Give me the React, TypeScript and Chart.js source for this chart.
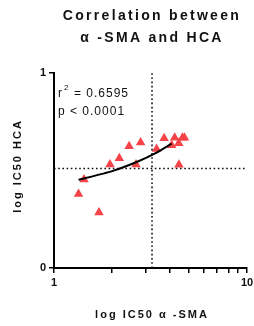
import React, { useEffect, useRef } from "react";
import { Chart, registerables } from "chart.js";

Chart.register(...registerables);

const titleLines = ["Correlation between", "\u03b1 -SMA and HCA"];
const xTitle = "log IC50 \u03b1 -SMA";
const yTitle = "log IC50 HCA";
const statLines = ["r\u00b2 = 0.6595", "p < 0.0001"];

const ic50SMA = [1.34, 1.43, 1.71, 1.95, 2.18, 2.45, 2.66, 2.81, 3.4, 3.72, 4.07, 4.22, 4.43, 4.44, 4.63, 4.74];
const ic50HCA = [0.38, 0.454, 0.284, 0.531, 0.563, 0.624, 0.531, 0.643, 0.61, 0.666, 0.629, 0.668, 0.64, 0.529, 0.668, 0.668];

const fitX = [1.34, 2.0, 2.7, 3.4, 4.07];
const fitY = [0.452, 0.497, 0.545, 0.592, 0.638];

const refX = 3.22;
const refY = 0.51;

const xMin = 1;
const xMax = 10;
const yMin = 0;
const yMax = 1;

export default function App() {
  const ref = useRef<HTMLCanvasElement | null>(null);
  useEffect(() => {
    document.body.style.margin = "0";
    const canvas = ref.current!;
    const textPlugin = {
      id: "texts",
      afterDraw(chart: any) {
        const ctx = chart.ctx as any;
        const area = chart.chartArea;
        ctx.save();
        ctx.fillStyle = "#111";
        ctx.textAlign = "center";
        ctx.textBaseline = "middle";
        ctx.font = "bold 14px 'Liberation Sans', Arial, sans-serif";
        ctx.letterSpacing = "2.3px";
        ctx.fillText(titleLines[0], 152, 16);
        ctx.fillText(titleLines[1], 152, 38);
        ctx.font = "bold 11px 'Liberation Sans', Arial, sans-serif";
        ctx.letterSpacing = "2px";
        ctx.fillText(xTitle, 152, 315);
        ctx.save();
        ctx.translate(18, 166);
        ctx.rotate(-Math.PI / 2);
        ctx.fillText(yTitle, 0, 0);
        ctx.restore();
        ctx.textAlign = "left";
        ctx.font = "12px 'Liberation Sans', Arial, sans-serif";
        ctx.letterSpacing = "1px";
        ctx.fillText("r", area.left + 4, 94);
        ctx.font = "8px 'Liberation Sans', Arial, sans-serif";
        ctx.fillText("2", area.left + 10, 88);
        ctx.font = "12px 'Liberation Sans', Arial, sans-serif";
        ctx.fillText("= 0.6595", area.left + 20, 94);
        ctx.fillText(statLines[1], area.left + 4, 112);
        ctx.restore();
      },
    };
    const chart = new Chart(canvas, {
      type: "scatter",
      data: {
        datasets: [
          {
            type: "line",
            data: [{ x: refX, y: yMin }, { x: refX, y: yMax }],
            borderColor: "#111",
            borderWidth: 1.6,
            borderDash: [1.6, 2.6],
            pointRadius: 0,
            showLine: true,
          } as any,
          {
            type: "line",
            data: [{ x: xMin, y: refY }, { x: xMax, y: refY }],
            borderColor: "#111",
            borderWidth: 1.6,
            borderDash: [1.6, 2.6],
            pointRadius: 0,
            showLine: true,
          } as any,
          {
            type: "line",
            data: fitX.map((x, i) => ({ x, y: fitY[i] })),
            borderColor: "#000",
            borderWidth: 2,
            pointRadius: 0,
            tension: 0.2,
            showLine: true,
          } as any,
          {
            data: ic50SMA.map((x, i) => ({ x, y: ic50HCA[i] })),
            pointStyle: "triangle",
            pointRadius: 5.5,
            backgroundColor: "#f44448",
            borderColor: "#f44448",
            borderWidth: 0,
          },
        ],
      },
      options: {
        animation: false,
        responsive: false,
        layout: { padding: { top: 73, right: 7, left: 0, bottom: 0 } },
        plugins: { legend: { display: false }, tooltip: { enabled: false } },
        scales: {
          x: {
            type: "logarithmic",
            min: xMin,
            max: xMax,
            grid: { drawOnChartArea: false, drawTicks: true, tickLength: 5, color: "#000", lineWidth: 1.5 },
            border: { display: true, color: "#000", width: 2 },
            ticks: {
              autoSkip: false,
              color: "#111",
              font: { family: "'Liberation Sans', Arial, sans-serif", size: 11, weight: "bold" },
              padding: 3,
              maxRotation: 0,
              callback: (v: any) => (v === 1 ? "1" : v === 10 ? "10" : ""),
            },
            afterBuildTicks: (s: any) => {
              s.ticks = [1, 2, 3, 4, 5, 6, 7, 8, 9, 10].map((v) => ({ value: v, major: v === 1 || v === 10 }));
            },
            afterFit: (s: any) => {
              s.height = 58;
              s.paddingLeft = 0;
              s.paddingRight = 0;
            },
          },
          y: {
            type: "linear",
            min: yMin,
            max: yMax,
            grid: { drawOnChartArea: false, drawTicks: true, tickLength: 5, color: "#000", lineWidth: 1.5 },
            border: { display: true, color: "#000", width: 2 },
            ticks: {
              stepSize: 1,
              color: "#111",
              padding: 3,
              font: { family: "'Liberation Sans', Arial, sans-serif", size: 11, weight: "bold" },
            },
            afterFit: (s: any) => {
              s.width = 54;
              s.paddingTop = 0;
              s.paddingBottom = 0;
            },
          },
        },
      },
      plugins: [textPlugin],
    } as any);
    return () => chart.destroy();
  }, []);
  return <canvas ref={ref} width={254} height={326} style={{ display: "block", width: 254, height: 326 }} />;
}
